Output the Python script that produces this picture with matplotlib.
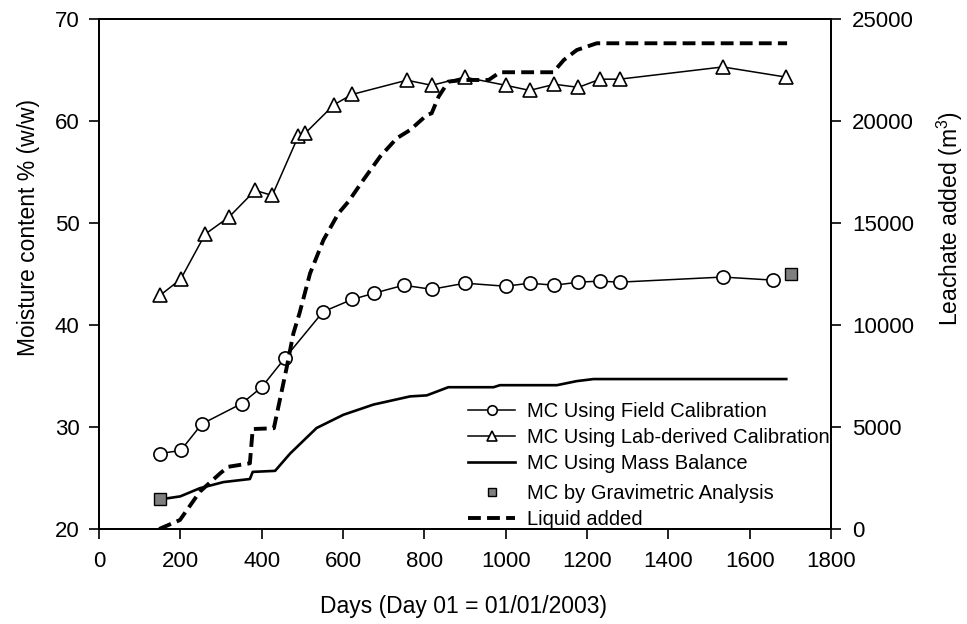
import matplotlib
matplotlib.use("Agg")
import matplotlib.pyplot as plt

plt.rcParams["font.family"] = ["Liberation Sans", "DejaVu Sans"]
plt.rcParams["mathtext.fontset"] = "custom"
plt.rcParams["mathtext.rm"] = "Liberation Sans"
plt.rcParams["mathtext.default"] = "regular"

# Moisture content from field calibration (%, w/w)
field_days = [150, 201, 253, 351, 400, 458, 551, 622, 675, 749, 818, 900,
              1000, 1059, 1120, 1179, 1231, 1280, 1534, 1657]
field_mc = [27.4, 27.7, 30.3, 32.3, 33.9, 36.8, 41.3, 42.5, 43.1, 43.9, 43.5, 44.1,
            43.8, 44.1, 43.9, 44.2, 44.3, 44.2, 44.7, 44.4]

# Moisture content from lab-derived calibration
lab_days = [150, 201, 261, 320, 384, 426, 490, 507, 578, 622, 757, 818, 899,
            1000, 1059, 1120, 1179, 1232, 1280, 1534, 1690]
lab_mc = [42.9, 44.5, 48.9, 50.6, 53.2, 52.7, 58.5, 58.8, 61.6, 62.6, 64.0, 63.5, 64.3,
          63.5, 63.0, 63.6, 63.3, 64.1, 64.1, 65.3, 64.3]

# Moisture content from mass balance
mb_days = [150, 200, 248, 306, 371, 378, 433, 470, 535, 601, 675, 765, 806, 859,
           970, 986, 1126, 1175, 1216, 1690]
mb_mc = [22.9, 23.2, 24.0, 24.6, 24.9, 25.6, 25.7, 27.4, 29.9, 31.2, 32.2, 33.0, 33.1, 33.9,
         33.9, 34.1, 34.1, 34.5, 34.7, 34.7]

# Gravimetric analysis
grav_days = [150, 1702]
grav_mc = [22.9, 45.0]

# Cumulative leachate added (m3)
liq_days = [148, 199, 248, 298, 318, 371, 378, 430, 462, 478, 493, 519, 552, 589,
            613, 650, 691, 732, 765, 806, 818, 835, 859, 896, 958, 986, 1117, 1143,
            1175, 1224, 1692]
liq_vol = [0, 440, 1830, 2730, 3050, 3220, 4900, 4940, 7960, 9590, 10570, 12530, 14170,
           15480, 16040, 17110, 18250, 19150, 19560, 20290, 20380, 21190, 21930, 22010,
           22010, 22390, 22390, 22990, 23480, 23810, 23810]

x_ticks = list(range(0, 1801, 200))
y_ticks = list(range(20, 71, 10))
y2_ticks = list(range(0, 25001, 5000))

fig = plt.figure(figsize=(9.67, 6.24), dpi=100)
ax = fig.add_axes([99 / 967, 1 - 529 / 624, (831 - 99) / 967, (529 - 19) / 624])
ax2 = ax.twinx()

h_field, = ax.plot(field_days, field_mc, "-", color="black", lw=1.1, marker="o",
                   ms=9.5, mfc="white", mec="black", mew=1.2,
                   label="MC Using Field Calibration")
h_lab, = ax.plot(lab_days, lab_mc, "-", color="black", lw=1.1, marker="^",
                 ms=9.5, mfc="white", mec="black", mew=1.2,
                 label="MC Using Lab-derived Calibration")
h_mb, = ax.plot(mb_days, mb_mc, "-", color="black", lw=1.9,
                label="MC Using Mass Balance")
h_grav, = ax.plot(grav_days, grav_mc, "s", color="#7f7f7f", ms=8.5, mec="black",
                  mew=1.0, label="MC by Gravimetric Analysis", zorder=5)
h_liq, = ax2.plot(liq_days, liq_vol, color="black", lw=2.8, dashes=(3.3, 1.6),
                  label="Liquid added")

ax.set_xlim(0, 1800)
ax.set_ylim(20, 70)
ax2.set_ylim(0, 25000)
ax.set_xticks(x_ticks)
ax.set_yticks(y_ticks)
ax2.set_yticks(y2_ticks)

for a in (ax, ax2):
    for s in a.spines.values():
        s.set_linewidth(1.3)
ax.tick_params(axis="x", direction="out", length=7, width=1.2, pad=9, labelsize=16)
ax.tick_params(axis="y", direction="out", length=7, width=1.2, pad=7, labelsize=16)
ax2.tick_params(axis="y", direction="out", length=7, width=1.2, pad=8, labelsize=16)

fig.text(464 / 967, 1 - 607 / 624, "Days (Day 01 = 01/01/2003)", fontsize=16.5,
         ha="center", va="center")
fig.text(29 / 967, 1 - 228 / 624, "Moisture content % (w/w)", fontsize=16.5,
         rotation=90, ha="center", va="center")
fig.text(950 / 967, 1 - 218 / 624, "Leachate added (m$^{3}$)", fontsize=16.5,
         rotation=90, ha="center", va="center")

leg_kw = dict(frameon=False, fontsize=14.5, loc="upper left", borderpad=0,
              borderaxespad=0, handlelength=2.35, handletextpad=0.6,
              labelspacing=0.35, markerscale=0.72, bbox_transform=fig.transFigure)
leg1 = ax2.legend([h_field, h_lab, h_mb],
                  [h_field.get_label(), h_lab.get_label(), h_mb.get_label()],
                  bbox_to_anchor=(468 / 967, 1 - 402 / 624), **leg_kw)
ax2.add_artist(leg1)
ax2.legend([h_grav, h_liq], [h_grav.get_label(), h_liq.get_label()],
           bbox_to_anchor=(468 / 967, 1 - 484 / 624), **leg_kw)

fig.savefig("out.png", dpi=100)
